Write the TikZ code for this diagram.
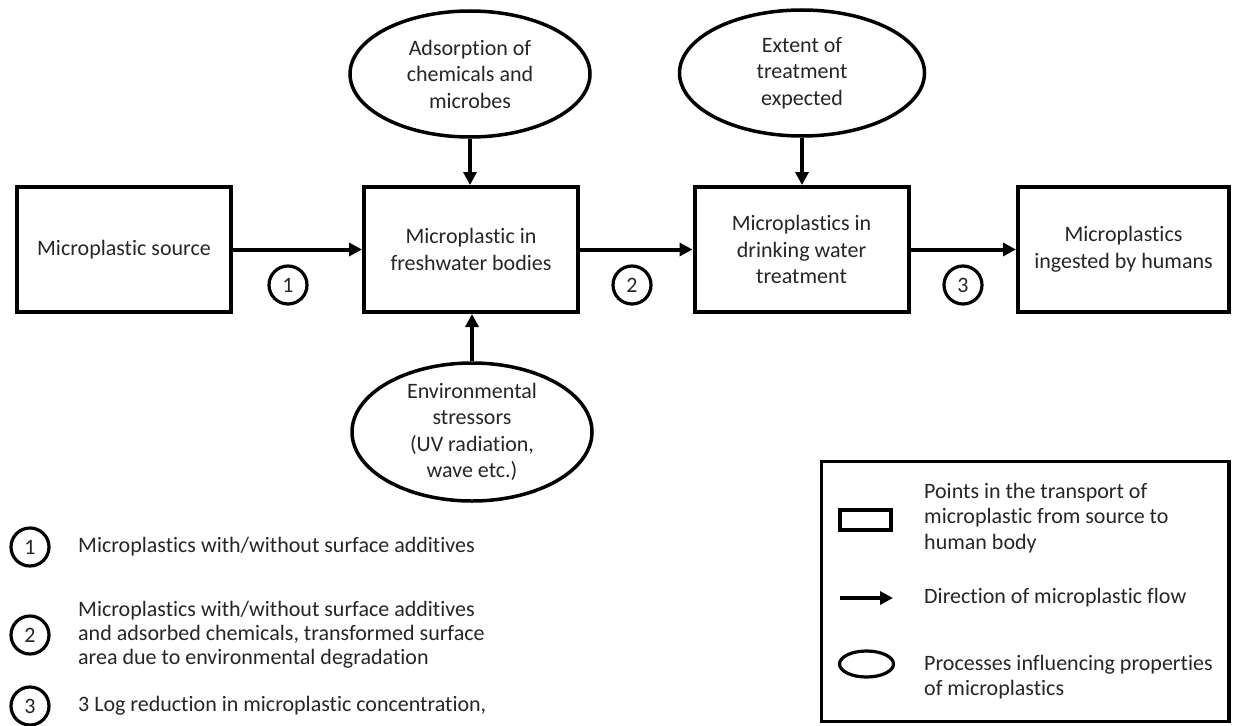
\documentclass[tikz,border=0pt]{standalone}
\usepackage{fontspec}
\setmainfont{Carlito}[Ligatures={NoCommon}]
\usetikzlibrary{arrows.meta,shapes.geometric}
\begin{document}
\begin{tikzpicture}[x=1pt,y=-1pt,
  txt/.style={font=\fontsize{22}{26.5}\selectfont, text=black!85},
  pbox/.style={draw, line width=4pt, minimum width=214pt, minimum height=125pt, inner sep=0pt, align=center, txt},
  proc/.style={draw, ellipse, line width=3.5pt, inner sep=-6pt, align=center, txt},
  num/.style={draw, circle, line width=3.2pt, minimum size=38pt, inner sep=0pt, txt},
  flow/.style={line width=4pt, -{Triangle[length=13pt,width=13pt]}},
  legtxt/.style={font=\fontsize{22}{25.5}\selectfont, text=black!85, align=left, anchor=west, inner sep=0pt}
]
\fill[white] (0,0) rectangle (1233,725);
\useasboundingbox (0,0) rectangle (1233,725);

% process boxes
\node[pbox] (src) at (124,249.5) {Microplastic source};
\node[pbox] (fresh) at (471,249.5) {Microplastic in\\freshwater bodies};
\node[pbox] (drink) at (801.5,249.5) {Microplastics in\\drinking water\\treatment};
\node[pbox, minimum width=211pt] (human) at (1123.5,249.5) {Microplastics\\ingested by humans};

% influencing processes
\node[proc, minimum width=240pt, minimum height=126pt] (ads) at (470,74) {Adsorption of\\chemicals and\\microbes};
\node[proc, minimum width=245pt, minimum height=126pt] (ext) at (802,73) {Extent of\\treatment\\expected};
\node[proc, minimum width=240pt, minimum height=138pt] (env) at (472,432) {Environmental\\stressors\\(UV radiation,\\wave etc.)};

% connectors
\draw[flow] (src) -- (fresh);
\draw[flow] (fresh) -- (drink);
\draw[flow] (drink) -- (human);
\draw[flow] (ads.south) -- (ads.south |- fresh.north);
\draw[flow] (ext.south) -- (ext.south |- drink.north);
\draw[flow] (env.north) -- (env.north |- fresh.south);

% stage numbers
\node[num] (n1) at (288,285) {1};
\node[num] (n2) at (632,285) {2};
\node[num] (n3) at (963,285) {3};

% left legend
\node[num] (l1) at (30,547) {1};
\node[legtxt] (l1t) at (78,547) {Microplastics with/without surface additives};
\node[num] (l2) at (30,635) {2};
\node[legtxt, font=\fontsize{22}{24}\selectfont] (l2t) at (78,635) {Microplastics with/without surface additives\\and adsorbed chemicals, transformed surface\\area due to environmental degradation};
\node[num] (l3) at (30,706) {3};
\node[legtxt] (l3t) at (78,706) {3 Log reduction in microplastic concentration,};

% right legend
\node[draw, line width=3.5pt, minimum width=407.5pt, minimum height=260pt, inner sep=0pt] (legbox) at (1025.25,591.5) {};
\node[draw, line width=4pt, minimum width=51pt, minimum height=20pt, inner sep=0pt] (lrect) at (865.5,520) {};
\node[legtxt] (lrectt) at (924,518) {Points in the transport of\\microplastic from source to\\human body};
\coordinate (la1) at (840,598);
\coordinate (la2) at (893,598);
\draw[flow, line width=3.5pt] (la1) -- (la2);
\node[legtxt] (larrt) at (924,598) {Direction of microplastic flow};
\node[draw, ellipse, line width=3.2pt, minimum width=54pt, minimum height=26pt, inner sep=0pt] (lell) at (866.5,664) {};
\node[legtxt] (lellt) at (924,677) {Processes influencing properties\\of microplastics};
\end{tikzpicture}
\end{document}
